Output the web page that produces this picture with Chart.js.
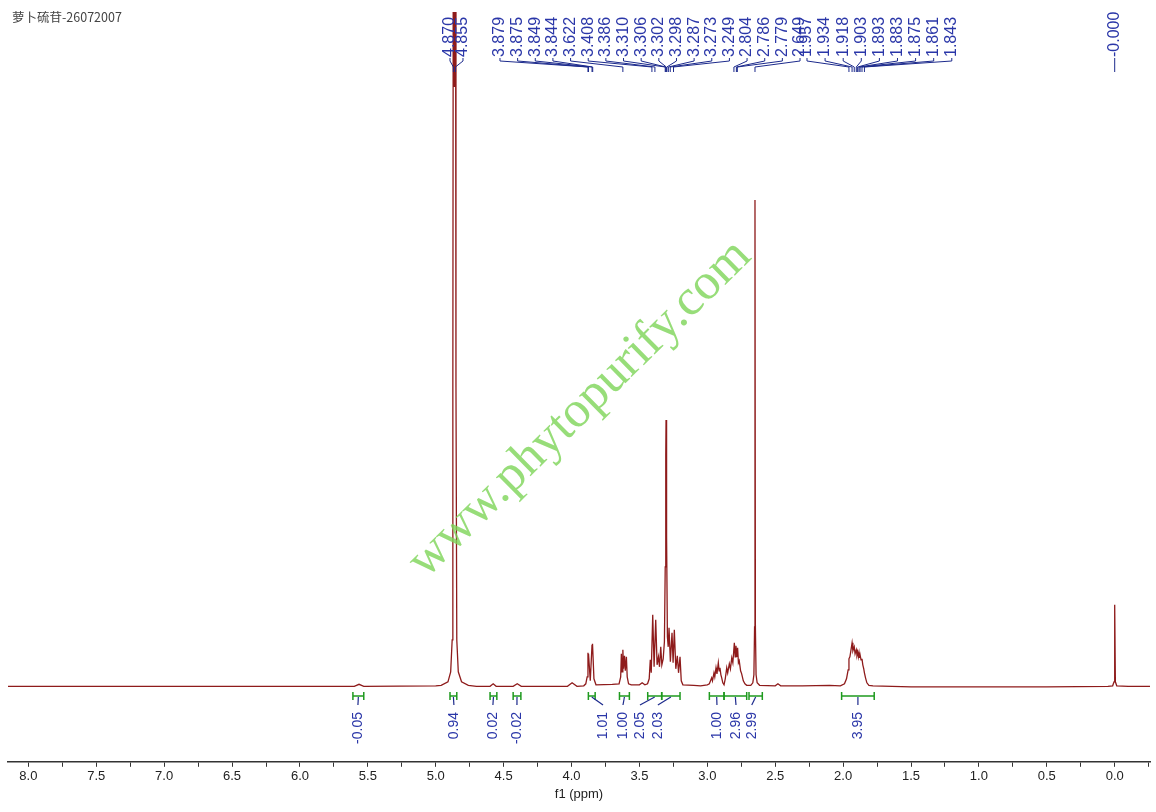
<!DOCTYPE html>
<html>
<head>
<meta charset="utf-8">
<script src="https://cdn.jsdelivr.net/npm/chart.js@4.4.1/dist/chart.umd.min.js"></script>
<style>
  html, body { margin: 0; padding: 0; background: #fff; }
</style>
</head>
<body>
<canvas id="nmr" width="1156" height="812"></canvas>
<script>
// Espectro 1H: pares [ppm, intensidade] (altura acima da linha de base)
const baseLeft = [[8.15, 0.5], [5.60, 0.5], [5.565, 2.5], [5.53, 0.5], [5.00, 1]];
const hod = [[4.96, 1.5], [4.91, 5], [4.89, 15], [4.879, 47], [4.874, 300], [4.870, 900], [4.8625, 600],
  [4.855, 900], [4.851, 300], [4.845, 47], [4.834, 15], [4.81, 5], [4.76, 1.5], [4.70, 0.5]];
const smallBumps = [[4.60, 0.5], [4.577, 3], [4.555, 0.5], [4.43, 0.5], [4.40, 3], [4.37, 0.5],
  [4.03, 0.5], [3.996, 4], [3.96, 0.5], [3.91, 1]];
const m387 = [[3.895, 3], [3.885, 10], [3.879, 34], [3.877, 28], [3.875, 33], [3.862, 6],
  [3.849, 42], [3.847, 36], [3.844, 43], [3.835, 8], [3.82, 2], [3.70, 2.5]];
const m362 = [[3.65, 3], [3.638, 10], [3.633, 33], [3.628, 15], [3.622, 37], [3.617, 18],
  [3.610, 31], [3.604, 16], [3.596, 30], [3.590, 10], [3.58, 3], [3.56, 2],
  [3.50, 2], [3.48, 4], [3.46, 2]];
const m330 = [[3.44, 3], [3.428, 8], [3.42, 27], [3.413, 14], [3.402, 72], [3.392, 20], [3.38, 67],
  [3.37, 22], [3.36, 30], [3.352, 20], [3.343, 40], [3.335, 22], [3.325, 28], [3.316, 45],
  [3.310, 120], [3.306, 232], [3.304, 267], [3.300, 150], [3.294, 50], [3.288, 40], [3.282, 59],
  [3.272, 25], [3.26, 54], [3.252, 24], [3.243, 57], [3.232, 18], [3.221, 31], [3.212, 14],
  [3.201, 30], [3.192, 6], [3.18, 2], [3.10, 1.5], [3.05, 1], [3.00, 2]];
const m293 = [[2.985, 3], [2.968, 9], [2.962, 6], [2.951, 14], [2.945, 10], [2.936, 19], [2.929, 13],
  [2.919, 24], [2.913, 16], [2.907, 19], [2.90, 12], [2.894, 9], [2.886, 4], [2.877, 2]];
const m279 = [[2.868, 8], [2.857, 19], [2.85, 14], [2.838, 23], [2.83, 18], [2.82, 29], [2.812, 24],
  [2.801, 44], [2.795, 30], [2.789, 41], [2.783, 30], [2.777, 39], [2.771, 24], [2.765, 26],
  [2.755, 16], [2.747, 13], [2.735, 6], [2.723, 3], [2.71, 1.5]];
const s265 = [[2.68, 1.5], [2.665, 4], [2.657, 12], [2.652, 60], [2.649, 487], [2.646, 60],
  [2.641, 12], [2.633, 4], [2.615, 1.5], [2.50, 1], [2.48, 3], [2.46, 1], [2.30, 1], [2.10, 1.5]];
const m190 = [[2.02, 1], [1.99, 3], [1.975, 8], [1.963, 17], [1.957, 28], [1.95, 30], [1.943, 36],
  [1.934, 44], [1.928, 36], [1.918, 40], [1.912, 33], [1.903, 37], [1.898, 32], [1.893, 35],
  [1.888, 30], [1.883, 34], [1.879, 29], [1.875, 32], [1.868, 27], [1.861, 28], [1.855, 22],
  [1.848, 18], [1.843, 14], [1.835, 9], [1.825, 4], [1.81, 1.5], [1.78, 1]];
const tms = [[1.5, 0], [1.0, 0], [0.5, 0], [0.05, 0.5], [0.015, 1], [0.005, 5], [0.0, 82],
  [-0.005, 5], [-0.015, 1], [-0.1, 0.5], [-0.26, 0.5]];

// Rótulos de picos (grupos)
const peaksA = ['4.870', '4.855'];
const peaksB = ['3.879', '3.875', '3.849', '3.844', '3.622', '3.408', '3.386', '3.310', '3.306',
  '3.302', '3.298', '3.287', '3.273', '3.249', '2.804', '2.786', '2.779', '2.649'];
const peaksC = ['1.957', '1.934', '1.918', '1.903', '1.893', '1.883', '1.875', '1.861', '1.843'];
const peaksD = ['-0.000'];

// Integrais: início, fim (ppm) e valor
const intFrom  = [5.61, 4.895, 4.60, 4.43, 3.876, 3.647, 3.439, 3.336, 2.985, 2.877, 2.693, 2.011];
const intTo    = [5.53, 4.845, 4.55, 4.373, 3.826, 3.574, 3.336, 3.201, 2.877, 2.710, 2.595, 1.771];
const intValue = [-0.05, 0.94, 0.02, -0.02, 1.01, 1.00, 2.05, 2.03, 1.00, 2.96, 2.99, 3.95];

const spectrum = [].concat(baseLeft, hod, smallBumps, m387, m362, m330, m293, m279, s265, m190, tms)
  .map(p => ({ x: p[0], y: p[1] }));

// Layout dos rótulos (posição inicial em ppm + espaçamento em px)
const peakLayout = [
  { labels: peaksA, start: 4.895, gap: 13 },
  { labels: peaksB, start: 4.527, gap: 17.65 },
  { labels: peaksC, start: 2.266, gap: 18.1 },
  { labels: peaksD, start: 0.0, gap: 0 }
];
const intLabelAt = [5.573, 4.866, 4.579, 4.402, 3.768, 3.621, 3.496, 3.364, 2.929, 2.789, 2.673, 1.891];

const sans = '"Liberation Sans", Arial, sans-serif';

const nmrDecor = {
  id: 'nmrDecor',
  afterDatasetsDraw(chart) {
    const ctx = chart.ctx;
    const xs = chart.scales.x;
    const px = v => xs.getPixelForValue(v);
    ctx.save();

    // marca d'agua
    ctx.save();
    ctx.translate(580, 409);
    ctx.rotate(-44.5 * Math.PI / 180);
    ctx.font = '51px "Liberation Serif", "Times New Roman", serif';
    ctx.fillStyle = 'rgba(125, 212, 88, 0.8)';
    ctx.textAlign = 'center';
    ctx.textBaseline = 'middle';
    ctx.fillText('www.phytopurify.com', 0, 0);
    ctx.restore();

    // titulo
    ctx.font = '12.5px "Noto Sans CJK SC", sans-serif';
    ctx.fillStyle = '#444';
    ctx.textAlign = 'left';
    ctx.textBaseline = 'middle';
    ctx.fillText('萝卜硫苷-26072007', 12, 17);

    // rotulos de picos
    ctx.strokeStyle = '#1c2a8c';
    ctx.lineWidth = 1;
    ctx.font = '16px ' + sans;
    ctx.fillStyle = '#2a36a8';
    peakLayout.forEach(g => {
      const x0 = px(g.start);
      g.labels.forEach((lab, i) => {
        const lx = x0 + i * g.gap;
        const pk = px(parseFloat(lab));
        ctx.save();
        ctx.translate(lx, 57);
        ctx.rotate(-Math.PI / 2);
        ctx.textAlign = 'left';
        ctx.textBaseline = 'middle';
        ctx.fillText(lab, 0, 0);
        ctx.restore();
        ctx.beginPath();
        ctx.moveTo(lx, 58);
        ctx.lineTo(lx, 61);
        ctx.lineTo(pk, 67);
        ctx.lineTo(pk, 72);
        ctx.stroke();
      });
    });

    // integrais
    ctx.font = '14px ' + sans;
    intValue.forEach((v, i) => {
      const x1 = px(intFrom[i]), x2 = px(intTo[i]);
      const y = 696;
      ctx.strokeStyle = '#1f9a1f';
      ctx.lineWidth = 1.5;
      ctx.beginPath();
      ctx.moveTo(x1, y); ctx.lineTo(x2, y);
      ctx.moveTo(x1, y - 4); ctx.lineTo(x1, y + 4);
      ctx.moveTo(x2, y - 4); ctx.lineTo(x2, y + 4);
      ctx.stroke();
      const mid = (x1 + x2) / 2;
      const lx = px(intLabelAt[i]);
      ctx.strokeStyle = '#1c2a8c';
      ctx.lineWidth = 1.2;
      ctx.beginPath();
      ctx.moveTo(mid, y + 1);
      ctx.lineTo(lx, 705);
      ctx.stroke();
      ctx.save();
      ctx.translate(lx, 712);
      ctx.rotate(-Math.PI / 2);
      ctx.fillStyle = '#2a36a8';
      ctx.textAlign = 'right';
      ctx.textBaseline = 'middle';
      ctx.fillText(v.toFixed(2), 0, 0);
      ctx.restore();
    });

    ctx.restore();
  }
};

new Chart(document.getElementById('nmr'), {
  type: 'line',
  data: {
    datasets: [{
      data: spectrum,
      borderColor: '#8e1b1b',
      borderWidth: 1.3,
      pointRadius: 0,
      tension: 0,
      fill: false
    }]
  },
  options: {
    responsive: false,
    devicePixelRatio: 1,
    animation: false,
    events: [],
    layout: { padding: { left: 8, right: 6, top: 12, bottom: 10 } },
    plugins: { legend: { display: false }, tooltip: { enabled: false } },
    scales: {
      x: {
        type: 'linear',
        reverse: true,
        min: -0.26,
        max: 8.15,
        border: { display: true, color: '#333', width: 1.5 },
        grid: { drawOnChartArea: false, drawTicks: true, tickLength: 5, color: '#333' },
        ticks: {
          stepSize: 0.25,
          includeBounds: false,
          autoSkip: false,
          maxRotation: 0,
          padding: 2,
          color: '#222',
          font: { family: sans, size: 13 },
          callback: v => Math.abs(v * 2 - Math.round(v * 2)) < 1e-6 ? v.toFixed(1) : ''
        },
        title: {
          display: true, text: 'f1 (ppm)', color: '#222',
          font: { family: sans, size: 13 }, padding: { top: 0, bottom: 0 }
        }
      },
      y: { display: false, min: -75, max: 675 }
    }
  },
  plugins: [nmrDecor]
});
</script>
</body>
</html>
